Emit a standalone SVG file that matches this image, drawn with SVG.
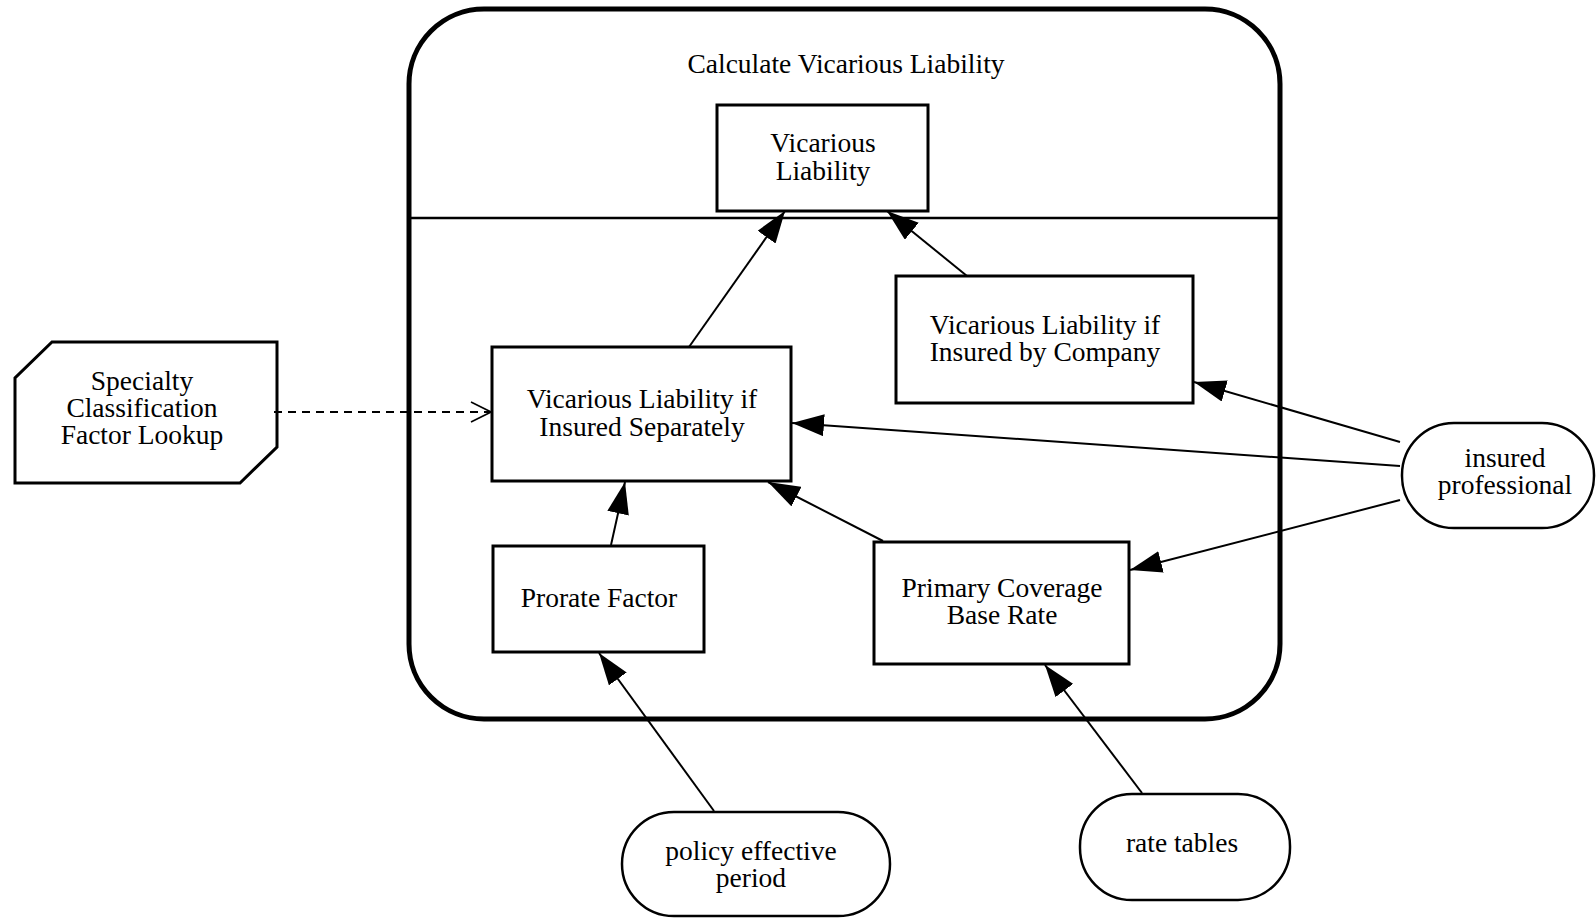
<svg xmlns="http://www.w3.org/2000/svg" width="1596" height="918" viewBox="0 0 1596 918">
<style>
text{font-family:"Liberation Serif","Times New Roman",serif;font-size:27.5px;fill:#000;text-anchor:middle}
.box{fill:#fff;stroke:#000;stroke-width:3}
.ext{fill:#fff;stroke:#000;stroke-width:2.5}
.conn{stroke:#000;stroke-width:2;fill:none}
</style>
<defs>
<marker id="ah" viewBox="0 0 32 22" refX="32" refY="11" markerWidth="32" markerHeight="22" orient="auto" markerUnits="userSpaceOnUse">
<path d="M0,0 L32,11 L0,22 z" fill="#000"/>
</marker>
<marker id="oh" viewBox="0 0 22 22" refX="21" refY="11" markerWidth="22" markerHeight="22" orient="auto" markerUnits="userSpaceOnUse">
<path d="M1,1 L21,11 L1,21" fill="none" stroke="#000" stroke-width="1.6"/>
</marker>
</defs>
<rect width="1596" height="918" fill="#fff"/>
<g id="container">
<rect x="409" y="9" width="871" height="710" rx="75" ry="75" fill="none" stroke="#000" stroke-width="5"/>
<line x1="409" y1="218" x2="1280" y2="218" stroke="#000" stroke-width="2.5"/>
<text x="846" y="73">Calculate Vicarious Liability</text>
</g>
<g id="vicarious-liability">
<rect class="box" x="717" y="105" width="211" height="106"/>
<text x="823" y="152">Vicarious</text>
<text x="823" y="180">Liability</text>
</g>
<g id="vl-company">
<rect class="box" x="896" y="276" width="297" height="127"/>
<text x="1045" y="334">Vicarious Liability if</text>
<text x="1045" y="361">Insured by Company</text>
</g>
<g id="vl-separately">
<rect class="box" x="492" y="347" width="299" height="134"/>
<text x="642" y="408">Vicarious Liability if</text>
<text x="642" y="436">Insured Separately</text>
</g>
<g id="prorate-factor">
<rect class="box" x="493" y="546" width="211" height="106"/>
<text x="599" y="607">Prorate Factor</text>
</g>
<g id="primary-coverage">
<rect class="box" x="874" y="542" width="255" height="122"/>
<text x="1002" y="597">Primary Coverage</text>
<text x="1002" y="624">Base Rate</text>
</g>
<g id="specialty-lookup">
<path class="box" d="M52,342 L277,342 L277,447 L240,483 L15,483 L15,378 Z"/>
<text x="142" y="390">Specialty</text>
<text x="142" y="417">Classification</text>
<text x="142" y="444">Factor Lookup</text>
</g>
<g id="insured-professional">
<rect class="ext" x="1402" y="423" width="192" height="105" rx="52" ry="52"/>
<text x="1505" y="467">insured</text>
<text x="1505" y="494">professional</text>
</g>
<g id="policy-effective-period">
<rect class="ext" x="622" y="812" width="268" height="104" rx="52" ry="52"/>
<text x="751" y="860">policy effective</text>
<text x="751" y="887">period</text>
</g>
<g id="rate-tables">
<rect class="ext" x="1080" y="794" width="210" height="106" rx="52" ry="52"/>
<text x="1182" y="852">rate tables</text>
</g>
<g id="connectors">
<line class="conn" x1="689" y1="347" x2="785" y2="211" marker-end="url(#ah)"/>
<line class="conn" x1="967" y1="276" x2="887" y2="211" marker-end="url(#ah)"/>
<line class="conn" x1="1400" y1="442" x2="1194" y2="382" marker-end="url(#ah)"/>
<line class="conn" x1="1400" y1="466" x2="792" y2="423" marker-end="url(#ah)"/>
<line class="conn" x1="1400" y1="500" x2="1130" y2="570" marker-end="url(#ah)"/>
<line class="conn" x1="883" y1="541" x2="768" y2="482" marker-end="url(#ah)"/>
<line class="conn" x1="611" y1="545" x2="625" y2="482" marker-end="url(#ah)"/>
<line class="conn" x1="714" y1="811" x2="599" y2="653" marker-end="url(#ah)"/>
<line class="conn" x1="1142" y1="793" x2="1045" y2="665" marker-end="url(#ah)"/>
<line class="conn" x1="274" y1="412" x2="491" y2="412" stroke-dasharray="8,6" marker-end="url(#oh)"/>
</g>
</svg>
